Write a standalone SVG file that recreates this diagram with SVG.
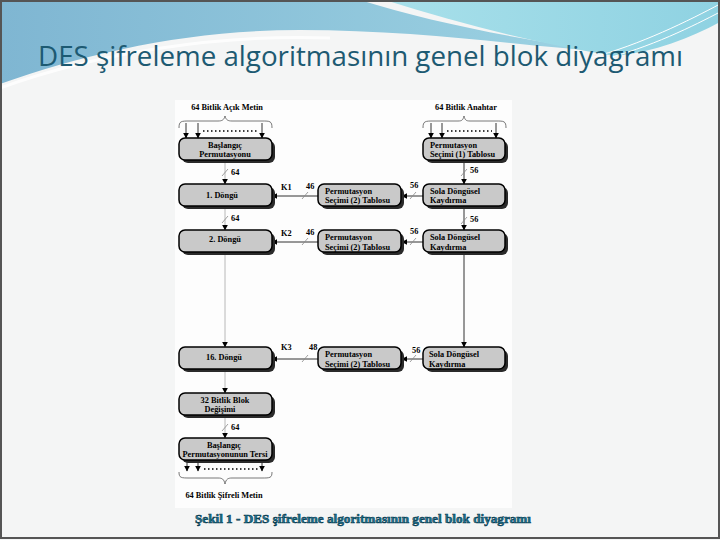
<svg xmlns="http://www.w3.org/2000/svg" width="720" height="540" viewBox="0 0 720 540">
<defs>
<linearGradient id="gBlue" x1="0" y1="0" x2="1" y2="0">
<stop offset="0" stop-color="#7fb6d2"/>
<stop offset="1" stop-color="#9dd3e3"/>
</linearGradient>
<linearGradient id="gCyan" x1="0" y1="0" x2="1" y2="0">
<stop offset="0" stop-color="#a8e0ea"/>
<stop offset="1" stop-color="#8fd2e2"/>
</linearGradient>
<marker id="ah" viewBox="0 0 10 10" refX="9" refY="5" markerWidth="6" markerHeight="6" orient="auto" markerUnits="userSpaceOnUse">
<path d="M0,0 L10,5 L0,10 Z" fill="#000"/>
</marker>
<style>
.box{fill:#c9c9c9;stroke:#000;stroke-width:1.5}
.sh{fill:#2a2a2a}
.t{font-family:"Liberation Serif",serif;font-weight:bold;font-size:8.3px;fill:#000}
.c{text-anchor:middle}
.ln{stroke:#333;stroke-width:1;fill:none}
.lg{stroke:#b8b8b8;stroke-width:1;fill:none}
.sl{stroke:#888;stroke-width:0.8;fill:none}
.dot{stroke:#000;stroke-width:1.5;stroke-dasharray:1.5,2.5;fill:none}
.br{stroke:#555;stroke-width:0.8;fill:none}
</style>
</defs>
<rect x="0" y="0" width="720" height="540" fill="#f4f5f5"/>
<g id="header">
<path d="M0,0 H360 C430,22 520,40 610,52 C520,46 420,30 300,30 C190,30 90,52 0,84 Z" fill="url(#gBlue)"/>
<path d="M385,0 H720 V22 C690,38 655,52 615,56 C540,44 460,24 385,0 Z" fill="url(#gCyan)"/>
<path d="M0,88 C100,52 220,34 330,38" stroke="#ffffff" stroke-width="3" fill="none" opacity="0.8"/>
<path d="M590,58 C640,45 690,20 720,4" stroke="#ffffff" stroke-width="1" fill="none"/>
<path d="M600,60 C650,48 695,25 720,12" stroke="#ffffff" stroke-width="1" fill="none"/>
<text x="38" y="66" font-family="'Open Sans','Noto Sans',sans-serif" font-size="27" fill="#1d5a72" textLength="645" lengthAdjust="spacingAndGlyphs">DES şifreleme algoritmasının genel blok diyagramı</text>
</g>
<rect x="175" y="100" width="337" height="408" fill="#fdfdfd"/>
<g id="connectors">
<path class="br" d="M179,128 C179,121 181,121 190,121 L218,121 C222,121 224,120 225,116 C226,120 228,121 232,121 L262,121 C270,121 272,121 272,128"/>
<line class="ln" x1="186" y1="123" x2="186" y2="138" marker-end="url(#ah)"/>
<line class="ln" x1="198" y1="123" x2="198" y2="138" marker-end="url(#ah)"/>
<line class="ln" x1="262" y1="123" x2="262" y2="138" marker-end="url(#ah)"/>
<line class="dot" x1="203" y1="131" x2="258" y2="131"/>
<path class="br" d="M423,128 C423,121 425,121 434,121 L458,121 C462,121 463,120 464,116 C465,120 466,121 470,121 L496,121 C504,121 506,121 506,128"/>
<line class="ln" x1="431" y1="123" x2="431" y2="138" marker-end="url(#ah)"/>
<line class="ln" x1="442" y1="123" x2="442" y2="138" marker-end="url(#ah)"/>
<line class="ln" x1="496" y1="123" x2="496" y2="138" marker-end="url(#ah)"/>
<line class="dot" x1="447" y1="131" x2="492" y2="131"/>
<line class="lg" x1="225" y1="160" x2="225" y2="184" marker-end="url(#ah)"/>
<line class="sl" x1="222" y1="176" x2="228" y2="169"/>
<line class="lg" x1="225" y1="207" x2="225" y2="230" marker-end="url(#ah)"/>
<line class="sl" x1="222" y1="223" x2="228" y2="216"/>
<line class="lg" x1="225" y1="253" x2="225" y2="347" marker-end="url(#ah)"/>
<line class="lg" x1="225" y1="370" x2="225" y2="393" marker-end="url(#ah)"/>
<line class="lg" x1="225" y1="416" x2="225" y2="438" marker-end="url(#ah)"/>
<line class="sl" x1="222" y1="431" x2="228" y2="424"/>
<line class="ln" x1="464" y1="160" x2="464" y2="184" marker-end="url(#ah)"/>
<line class="sl" x1="461" y1="176" x2="467" y2="169"/>
<line class="ln" x1="464" y1="207" x2="464" y2="230" marker-end="url(#ah)"/>
<line class="sl" x1="461" y1="224" x2="467" y2="217"/>
<line class="ln" x1="464" y1="253" x2="464" y2="347" marker-end="url(#ah)"/>
<line class="ln" x1="318" y1="196" x2="272" y2="196" marker-end="url(#ah)"/>
<line class="sl" x1="302" y1="199" x2="308" y2="192"/>
<line class="ln" x1="423" y1="196" x2="402" y2="196" marker-end="url(#ah)"/>
<line class="sl" x1="410" y1="199" x2="416" y2="192"/>
<line class="ln" x1="318" y1="242" x2="272" y2="242" marker-end="url(#ah)"/>
<line class="sl" x1="302" y1="245" x2="308" y2="238"/>
<line class="ln" x1="423" y1="242" x2="402" y2="242" marker-end="url(#ah)"/>
<line class="sl" x1="410" y1="245" x2="416" y2="238"/>
<line class="ln" x1="318" y1="359" x2="272" y2="359" marker-end="url(#ah)"/>
<line class="sl" x1="302" y1="362" x2="308" y2="355"/>
<line class="ln" x1="423" y1="359" x2="402" y2="359" marker-end="url(#ah)"/>
<line class="sl" x1="410" y1="362" x2="416" y2="355"/>
<line class="ln" x1="187" y1="461" x2="187" y2="471" marker-end="url(#ah)"/>
<line class="ln" x1="198" y1="461" x2="198" y2="471" marker-end="url(#ah)"/>
<line class="ln" x1="262" y1="461" x2="262" y2="471" marker-end="url(#ah)"/>
<line class="dot" x1="204" y1="469" x2="258" y2="469"/>
<path class="br" d="M179,472 C179,478 181,478 190,478 L218,478 C222,478 224,479 225,484 C226,479 228,478 232,478 L262,478 C270,478 272,478 272,472"/>
<text class="t" x="231" y="175">64</text>
<text class="t" x="231" y="221">64</text>
<text class="t" x="231" y="430">64</text>
<text class="t" x="470" y="173">56</text>
<text class="t" x="470" y="222">56</text>
<text class="t" x="281" y="190">K1</text>
<text class="t" x="306" y="189">46</text>
<text class="t" x="410" y="188">56</text>
<text class="t" x="281" y="236">K2</text>
<text class="t" x="306" y="235">46</text>
<text class="t" x="410" y="234">56</text>
<text class="t" x="281" y="350">K3</text>
<text class="t" x="309" y="350">48</text>
<text class="t" x="412" y="353">56</text>
<text class="t c" x="227" y="110">64 Bitlik Açık Metin</text>
<text class="t c" x="466" y="110">64 Bitlik Anahtar</text>
<text class="t c" x="224" y="498">64 Bitlik Şifreli Metin</text>
</g>
<g id="n-bp">
<rect class="sh" x="182" y="141" width="93" height="22" rx="6"/>
<rect class="box" x="179" y="138" width="93" height="22" rx="6"/>
<text class="t c" x="225" y="147.5">Başlangıç</text>
<text class="t c" x="225" y="157">Permutasyonu</text>
</g>
<g id="n-d1">
<rect class="sh" x="182" y="187" width="93" height="22" rx="6"/>
<rect class="box" x="179" y="184" width="93" height="22" rx="6"/>
<text class="t c" x="222" y="198">1. Döngü</text>
</g>
<g id="n-d2">
<rect class="sh" x="182" y="233" width="93" height="22" rx="6"/>
<rect class="box" x="179" y="230" width="93" height="22" rx="6"/>
<text class="t c" x="225" y="242">2. Döngü</text>
</g>
<g id="n-d16">
<rect class="sh" x="182" y="350" width="93" height="22" rx="6"/>
<rect class="box" x="179" y="347" width="93" height="22" rx="6"/>
<text class="t c" x="224" y="360">16. Döngü</text>
</g>
<g id="n-swap">
<rect class="sh" x="182" y="396" width="93" height="22" rx="6"/>
<rect class="box" x="179" y="393" width="93" height="22" rx="6"/>
<text class="t c" x="225" y="402.5">32 Bitlik Blok</text>
<text class="t c" x="220" y="412">Değişimi</text>
</g>
<g id="n-inv">
<rect class="sh" x="182" y="441" width="93" height="22" rx="6"/>
<rect class="box" x="179" y="438" width="93" height="22" rx="6"/>
<text class="t c" x="224" y="447.5">Başlangıç</text>
<text class="t c" x="225" y="457">Permutasyonunun Tersi</text>
</g>
<g id="n-pc1">
<rect class="sh" x="426" y="141" width="82" height="22" rx="6"/>
<rect class="box" x="423" y="138" width="82" height="22" rx="6"/>
<text class="t" x="430" y="147.5">Permutasyon</text>
<text class="t" x="430" y="157">Seçimi (1) Tablosu</text>
</g>
<g id="n-ls1">
<rect class="sh" x="426" y="187" width="82" height="22" rx="6"/>
<rect class="box" x="423" y="184" width="82" height="22" rx="6"/>
<text class="t" x="430" y="193.5">Sola Döngüsel</text>
<text class="t" x="430" y="203">Kaydırma</text>
</g>
<g id="n-ls2">
<rect class="sh" x="426" y="233" width="82" height="22" rx="6"/>
<rect class="box" x="423" y="230" width="82" height="22" rx="6"/>
<text class="t" x="430" y="240">Sola Döngüsel</text>
<text class="t" x="430" y="249.5">Kaydırma</text>
</g>
<g id="n-ls16">
<rect class="sh" x="426" y="350" width="82" height="22" rx="6"/>
<rect class="box" x="423" y="347" width="82" height="22" rx="6"/>
<text class="t" x="429" y="357">Sola Döngüsel</text>
<text class="t" x="429" y="367">Kaydırma</text>
</g>
<g id="n-pc2a">
<rect class="sh" x="321" y="187" width="83" height="22" rx="6"/>
<rect class="box" x="318" y="184" width="83" height="22" rx="6"/>
<text class="t" x="325" y="193.5">Permutasyon</text>
<text class="t" x="325" y="203">Seçimi (2) Tablosu</text>
</g>
<g id="n-pc2b">
<rect class="sh" x="321" y="233" width="83" height="22" rx="6"/>
<rect class="box" x="318" y="230" width="83" height="22" rx="6"/>
<text class="t" x="325" y="240">Permutasyon</text>
<text class="t" x="325" y="249.5">Seçimi (2) Tablosu</text>
</g>
<g id="n-pc2c">
<rect class="sh" x="321" y="350" width="83" height="22" rx="6"/>
<rect class="box" x="318" y="347" width="83" height="22" rx="6"/>
<text class="t" x="325" y="357">Permutasyon</text>
<text class="t" x="325" y="367">Seçimi (2) Tablosu</text>
</g>
<text x="363" y="523" text-anchor="middle" font-family="'Liberation Serif',serif" font-weight="bold" font-size="13.2" fill="#1a7895" stroke="#0b3c50" stroke-width="0.6">Şekil 1 - DES şifreleme algoritmasının genel blok diyagramı</text>
<rect x="1" y="1" width="718" height="537" fill="none" stroke="#555" stroke-width="2"/>
</svg>
